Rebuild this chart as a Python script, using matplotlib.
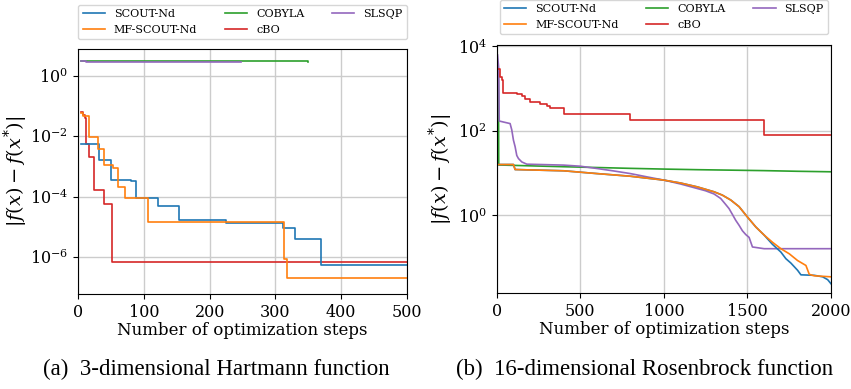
import numpy as np
import matplotlib
matplotlib.use('Agg')
import matplotlib.pyplot as plt
from matplotlib.ticker import NullLocator

plt.rcParams['font.family'] = ['DejaVu Serif']
plt.rcParams['mathtext.fontset'] = 'dejavuserif'

labels = ['SCOUT-Nd', 'MF-SCOUT-Nd', 'COBYLA', 'cBO', 'SLSQP']
colors = ['#1f77b4', '#ff7f0e', '#2ca02c', '#d62728', '#9467bd']

# (a) 3-dimensional Hartmann
scout_a_x = [5, 32, 50, 80, 88, 122, 153, 225, 312, 330, 370, 500]
scout_a_y = [5.5e-3, 1.66e-3, 3.5e-4, 3.3e-4, 9.3e-5, 4.8e-5, 1.7e-5, 1.35e-5, 8.9e-6, 4.1e-6, 5.6e-7, 5.6e-7]
mf_a_x = [5, 8, 17, 31, 40, 53, 60, 72, 106, 313, 317, 500]
mf_a_y = [0.06, 0.047, 9.1e-3, 3.7e-3, 1.1e-3, 8.8e-4, 2.0e-4, 9.3e-5, 1.46e-5, 8.8e-7, 2.0e-7, 2.0e-7]
cobyla_a_x = [5, 12, 350]
cobyla_a_y = [3.1, 2.95, 2.9]
cbo_a_x = [5, 8, 10, 12, 17, 25, 40, 51, 500]
cbo_a_y = [0.065, 0.05, 0.04, 5.5e-3, 2.1e-3, 1.6e-4, 5.9e-5, 6.9e-7, 6.9e-7]
slsqp_a_x = [5, 12, 247]
slsqp_a_y = [3.1, 2.9, 2.9]

# (b) 16-dimensional Rosenbrock
scout_b_x = [10, 100, 110, 400, 600, 800, 1000, 1100, 1200, 1300, 1350, 1400, 1450, 1500, 1550, 1600,
             1650, 1700, 1730, 1760, 1800, 1820, 1900, 1950, 1980, 2000]
scout_b_y = [15.9, 15.9, 12.1, 11.3, 9.7, 8.4, 6.8, 5.8, 4.7, 3.6, 3.0, 2.3, 1.6, 0.91, 0.53, 0.34,
             0.205, 0.135, 0.094, 0.074, 0.050, 0.039, 0.038, 0.035, 0.030, 0.024]
mf_b_x = [10, 100, 110, 400, 600, 800, 1000, 1100, 1200, 1300, 1350, 1400, 1450, 1500, 1550, 1600,
          1650, 1700, 1750, 1800, 1850, 1870, 1900, 2000]
mf_b_y = [15.9, 15.9, 12.1, 11.3, 9.7, 8.4, 6.8, 5.8, 4.7, 3.6, 3.0, 2.3, 1.6, 0.91, 0.53, 0.34,
          0.23, 0.162, 0.123, 0.085, 0.065, 0.040, 0.037, 0.035]
cobyla_b_x = [10, 12, 200, 400, 600, 800, 1000, 1200, 1400, 1600, 1800, 2000]
cobyla_b_y = [2300, 15.5, 14.8, 14.1, 13.5, 12.9, 12.4, 12.0, 11.7, 11.4, 11.0, 10.7]
cbo_b_x = [10, 20, 30, 36, 120, 150, 170, 200, 260, 300, 320, 400, 800, 1600, 2000]
cbo_b_y = [2820, 1900, 1580, 790, 740, 650, 560, 470, 420, 390, 355, 250, 175, 79, 79]
slsqp_b_x = [5, 12, 15, 80, 90, 100, 110, 120, 130, 150, 180, 400, 500, 600, 700, 800, 900, 1000,
             1100, 1200, 1250, 1300, 1340, 1370, 1390, 1410, 1430, 1450, 1470, 1490, 1510, 1530,
             1600, 2000]
slsqp_b_y = [6200, 3000, 170, 148, 105, 60, 42, 26, 22, 18.3, 16.2, 15.4, 14.5, 12.8, 11.2, 9.7,
             8.1, 6.8, 5.5, 4.3, 3.8, 3.2, 2.5, 1.8, 1.44, 1.05, 0.76, 0.58, 0.43, 0.35, 0.30,
             0.178, 0.162, 0.162]

panels = [
    dict(rect=[0.0917, 0.2442, 0.3866, 0.6298],
         series=[(scout_a_x, scout_a_y), (mf_a_x, mf_a_y), (cobyla_a_x, cobyla_a_y),
                 (cbo_a_x, cbo_a_y), (slsqp_a_x, slsqp_a_y)],
         styles=['steps-post'] * 5,
         xlim=(0, 500), ylim=(6e-8, 7.6), yticks=[1e-6, 1e-4, 1e-2, 1e0],
         leg_y=1.018, ylab_x=-0.146,
         caption='(a)  3-dimensional Hartmann function', cx=216 / 851),
    dict(rect=[0.5837, 0.2468, 0.3928, 0.6375],
         series=[(scout_b_x, scout_b_y), (mf_b_x, mf_b_y), (cobyla_b_x, cobyla_b_y),
                 (cbo_b_x, cbo_b_y), (slsqp_b_x, slsqp_b_y)],
         styles=['default', 'default', 'default', 'steps-post', 'default'],
         xlim=(0, 2000), ylim=(1.45e-2, 1.07e4), yticks=[1e0, 1e2, 1e4],
         leg_y=1.022, ylab_x=-0.125,
         caption='(b)  16-dimensional Rosenbrock function', cx=645 / 851),
]

fig = plt.figure(figsize=(8.51, 3.89), dpi=100)

for p in panels:
    ax = fig.add_axes(p['rect'])
    order = [2, 4, 3, 0, 1]
    lines = {}
    for i in order:
        x, y = p['series'][i]
        lines[i], = ax.plot(x, y, drawstyle=p['styles'][i], color=colors[i], lw=1.2, label=labels[i])
    ax.set_yscale('log')
    ax.set_xlim(*p['xlim'])
    ax.set_ylim(*p['ylim'])
    ax.set_yticks(p['yticks'])
    ax.yaxis.set_minor_locator(NullLocator())
    ax.grid(True, color='#cccccc', lw=1)
    ax.set_axisbelow(True)
    ax.tick_params(labelsize=11.5)
    ax.set_xlabel('Number of optimization steps', fontsize=12, labelpad=1)
    ax.set_ylabel(r'$|f(x) - f(x^{*})|$', fontsize=14)
    ax.yaxis.set_label_coords(p['ylab_x'], 0.5)
    ax.legend([lines[i] for i in range(5)], labels, ncol=3, loc='lower center',
              bbox_to_anchor=(0.5, p['leg_y']), fontsize=8, columnspacing=2.5)
    fig.text(p['cx'], 0.035, p['caption'], ha='center', fontsize=16.5,
             family='Liberation Serif')

fig.savefig('out.png', dpi=100)
